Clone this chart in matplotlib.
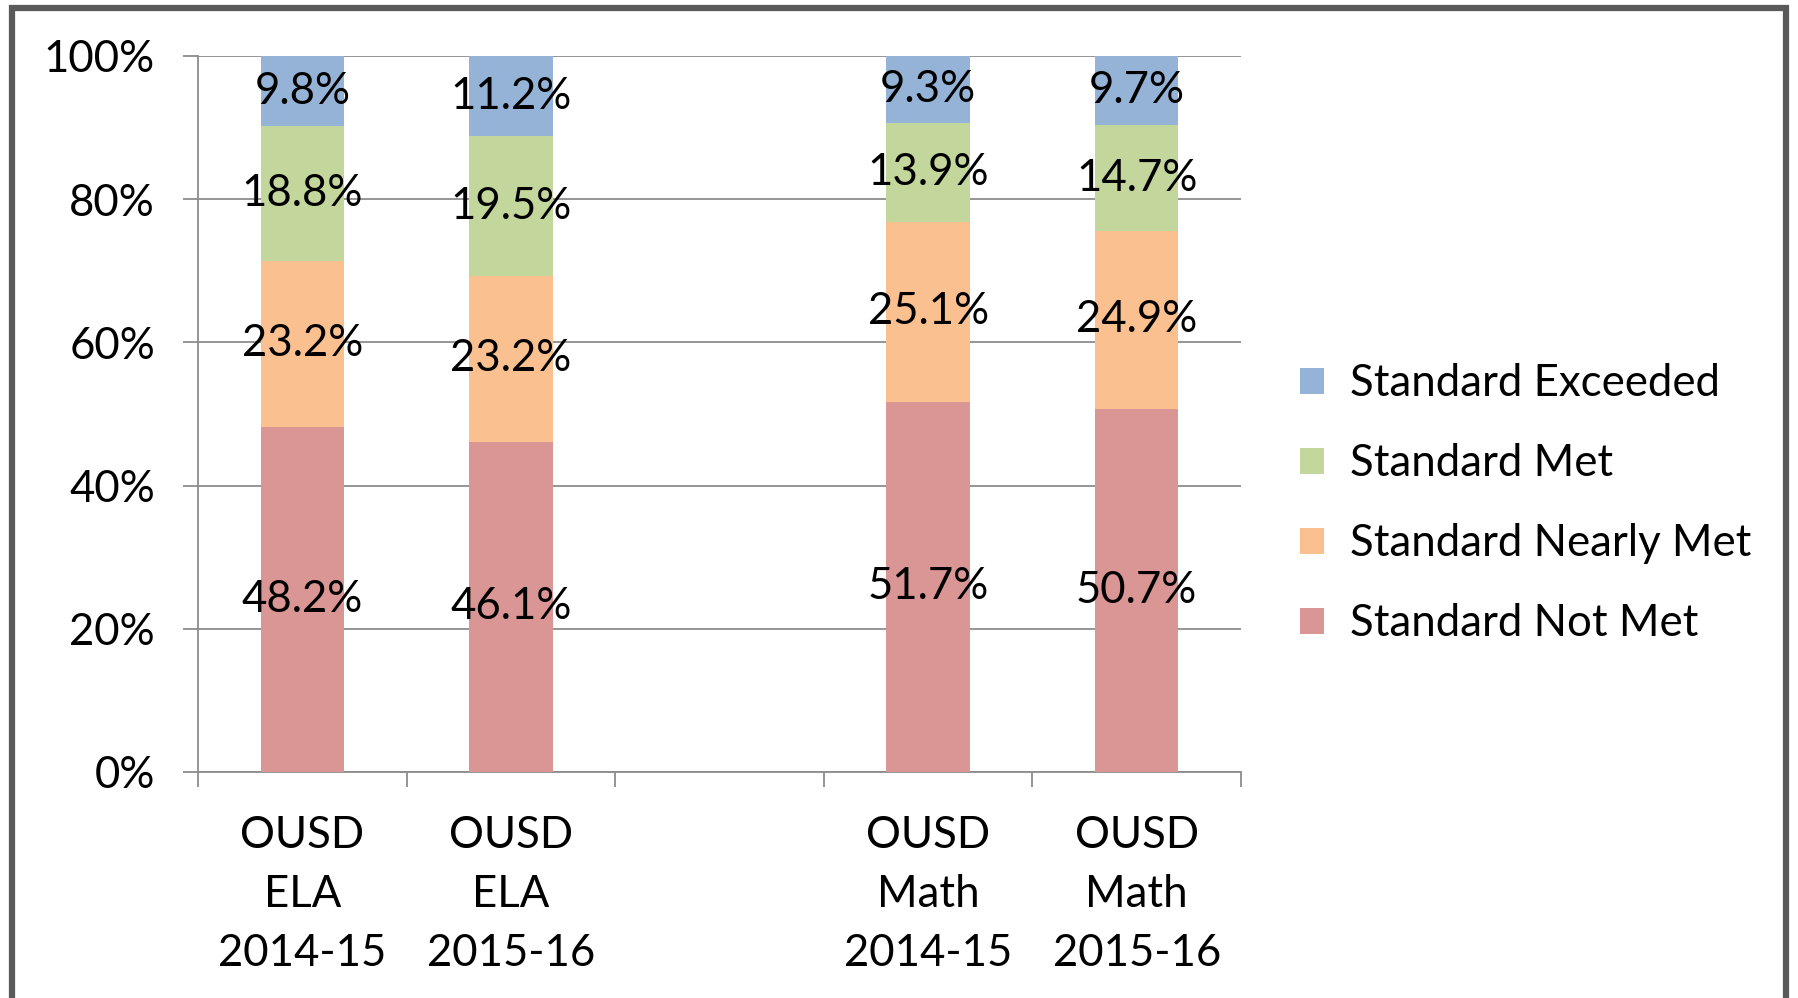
import matplotlib
matplotlib.use("Agg")
import matplotlib.pyplot as plt
from matplotlib.patches import Rectangle, Patch
import numpy as np

categories = ["OUSD\nELA\n2014-15", "OUSD\nELA\n2015-16", "", "OUSD\nMath\n2014-15", "OUSD\nMath\n2015-16"]
series_names = ["Standard Not Met", "Standard Nearly Met", "Standard Met", "Standard Exceeded"]
not_met = [48.2, 46.1, None, 51.7, 50.7]
nearly_met = [23.2, 23.2, None, 25.1, 24.9]
met = [18.8, 19.5, None, 13.9, 14.7]
exceeded = [9.8, 11.2, None, 9.3, 9.7]
yticks = [0, 20, 40, 60, 80, 100]
colors = ["#D99694", "#FAC090", "#C3D69B", "#95B3D7"]

plt.rcParams['font.family'] = ['Lato', 'DejaVu Sans']
FS = 31.5

fig = plt.figure(figsize=(17.98, 9.98), dpi=100)
ax = fig.add_axes([198/1798, 1-772/998, (1241-198)/1798, (772-56)/998])

x = np.arange(len(categories))
series = [not_met, nearly_met, met, exceeded]
bottom = np.zeros(len(categories))
for name, vals, col in zip(series_names, series, colors):
    v = np.array([np.nan if a is None else a for a in vals], dtype=float)
    vv = np.nan_to_num(v)
    ax.bar(x, vv, bottom=bottom, width=0.40, color=col, label=name, zorder=3)
    for xi, b, val in zip(x, bottom, v):
        if not np.isnan(val):
            ax.text(xi, b + val/2, f"{val:.1f}%", ha='center', va='center',
                    fontsize=FS, color='black', zorder=4)
    bottom = bottom + vv

ax.set_xlim(-0.5, len(categories)-0.5)
ax.set_ylim(0, 100)
ax.set_yticks(yticks)
ax.set_yticklabels([f"{t}%" for t in yticks], fontsize=FS)
ax.yaxis.grid(True, color='#8C8C8C', linewidth=1.3, zorder=0)
ax.set_axisbelow(True)

ax.set_xticks(x)
ax.set_xticklabels(categories, fontsize=FS, linespacing=1.55)
ax.set_xticks(np.arange(len(categories)+1)-0.5, minor=True)
ax.tick_params(axis='x', which='major', length=0, pad=31)
ax.tick_params(axis='x', which='minor', length=11, width=1.3, color='#8C8C8C', direction='out')
ax.tick_params(axis='y', length=11, width=1.3, color='#8C8C8C', direction='out', pad=20)

for s in ['top', 'right']:
    ax.spines[s].set_visible(False)
for s in ['left', 'bottom']:
    ax.spines[s].set_color('#8C8C8C')
    ax.spines[s].set_linewidth(1.3)

handles = [Patch(facecolor=c, edgecolor='none') for c in colors][::-1]
labels = series_names[::-1]
fig.legend(handles, labels, loc='upper left', bbox_to_anchor=(1282/1798, 1-346/998),
           frameon=False, fontsize=FS, handlelength=0.55, handleheight=0.55,
           handletextpad=0.6, labelspacing=0.89, borderaxespad=0)

# outer frame
fig.patches.append(Rectangle((12/1798, -0.05), (1786-12)/1798, 1.05 - 8/998,
                             transform=fig.transFigure, fill=False,
                             edgecolor='#5A5A5A', linewidth=4.5, zorder=10))

fig.savefig("out.png", dpi=100)
